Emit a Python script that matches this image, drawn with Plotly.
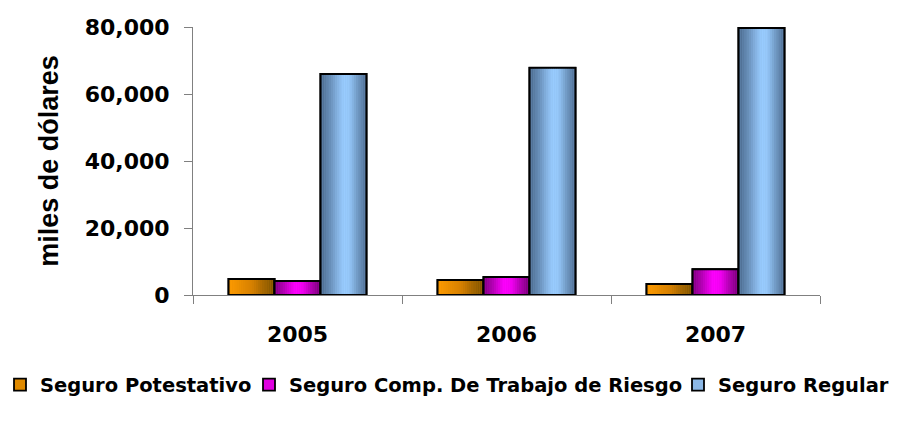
import plotly.graph_objects as go

# ---- data ----
years = ["2005", "2006", "2007"]
series_names = ["Seguro Potestativo", "Seguro Comp. De Trabajo de Riesgo", "Seguro Regular"]
seguro_potestativo = [4800, 4450, 3300]
seguro_comp_riesgo = [4200, 5350, 7700]
seguro_regular = [66000, 67800, 79700]
y_ticks = [0, 20000, 40000, 60000, 80000]
y_tick_labels = ["0", "20,000", "40,000", "60,000", "80,000"]

values = [seguro_potestativo, seguro_comp_riesgo, seguro_regular]

# ---- style ----
gradients = [
    [(0.0, (255, 156, 0)), (0.5, (214, 128, 0)), (1.0, (120, 80, 0))],
    [(0.0, (120, 0, 120)), (0.45, (255, 0, 255)), (0.6, (245, 0, 245)), (1.0, (110, 0, 110))],
    [(0.0, (70, 100, 135)), (0.5, (153, 204, 255)), (0.62, (150, 200, 250)), (1.0, (75, 105, 140))],
]
mid_colors = ["#E08A00", "#E000E0", "#8CB8E6"]
legend_ids = ["legend", "legend2", "legend3"]
legend_left_px = [-6, 249, 678]
N_SLICES = 22
BAR_W = 0.22
GROUP_START = -0.33
W, H = 905, 421


def interp(stops, t):
    for (p0, c0), (p1, c1) in zip(stops[:-1], stops[1:]):
        if p0 <= t <= p1:
            f = (t - p0) / (p1 - p0) if p1 > p0 else 0
            c = [round(a + (b - a) * f) for a, b in zip(c0, c1)]
            return "rgb({},{},{})".format(*c)
    c = stops[-1][1]
    return "rgb({},{},{})".format(*c)


fig = go.Figure()

for i, (name, vals) in enumerate(zip(series_names, values)):
    base_off = GROUP_START + BAR_W * i
    fig.add_trace(go.Bar(
        x=years, y=vals, name=name,
        offset=base_off, width=BAR_W,
        marker=dict(color=mid_colors[i], line=dict(color="black", width=1.8)),
        showlegend=True, legend=legend_ids[i], hoverinfo="skip",
    ))
    sw = BAR_W / N_SLICES
    for k in range(N_SLICES):
        t = (k + 0.5) / N_SLICES
        fig.add_trace(go.Bar(
            x=years, y=vals,
            offset=base_off + k * sw, width=sw * 1.05,
            marker=dict(color=interp(gradients[i], t), line=dict(width=0)),
            showlegend=False, hoverinfo="skip",
        ))
    fig.add_trace(go.Bar(
        x=years, y=vals,
        offset=base_off, width=BAR_W,
        marker=dict(color="rgba(0,0,0,0)", line=dict(color="black", width=2)),
        showlegend=False, hoverinfo="skip",
    ))

legend_font = dict(family="DejaVu Sans", size=19.5, color="black", weight="bold")
legend_common = dict(
    orientation="h", xref="container", xanchor="left",
    yref="container", y=1 - 385 / H, yanchor="middle",
    font=legend_font, itemwidth=30, bgcolor="rgba(0,0,0,0)",
)

layout_legends = {}
for lid, lx in zip(legend_ids, legend_left_px):
    layout_legends[lid] = dict(x=lx / W, **legend_common)

fig.update_layout(
    width=W, height=H,
    barmode="overlay",
    paper_bgcolor="white", plot_bgcolor="white",
    margin=dict(l=193, r=85, t=27, b=126, autoexpand=False),
    font=dict(family="DejaVu Sans", size=22, color="black", weight="bold"),
    xaxis=dict(
        type="category", range=[-0.5, 2.5],
        showline=True, linecolor="#808080", linewidth=1,
        ticks="outside", tickson="boundaries", ticklen=8, tickcolor="#808080",
        ticklabelstandoff=20,
        showgrid=False, zeroline=False,
        tickfont=dict(family="DejaVu Sans", size=22, color="black", weight="bold"),
    ),
    yaxis=dict(
        range=[0, 80000],
        tickvals=y_ticks, ticktext=y_tick_labels,
        showline=True, linecolor="#808080", linewidth=1,
        ticks="outside", ticklen=8, tickcolor="#808080",
        ticklabelstandoff=10,
        showgrid=False, zeroline=False,
        tickfont=dict(family="DejaVu Sans", size=22, color="black", weight="bold"),
        title=dict(text="miles de dólares", standoff=18,
                   font=dict(family="Liberation Sans", size=27, color="black", weight="bold")),
    ),
    **layout_legends,
)

fig.write_html("out.html", config={"displayModeBar": False},
               post_script="document.body.style.margin='0';")
